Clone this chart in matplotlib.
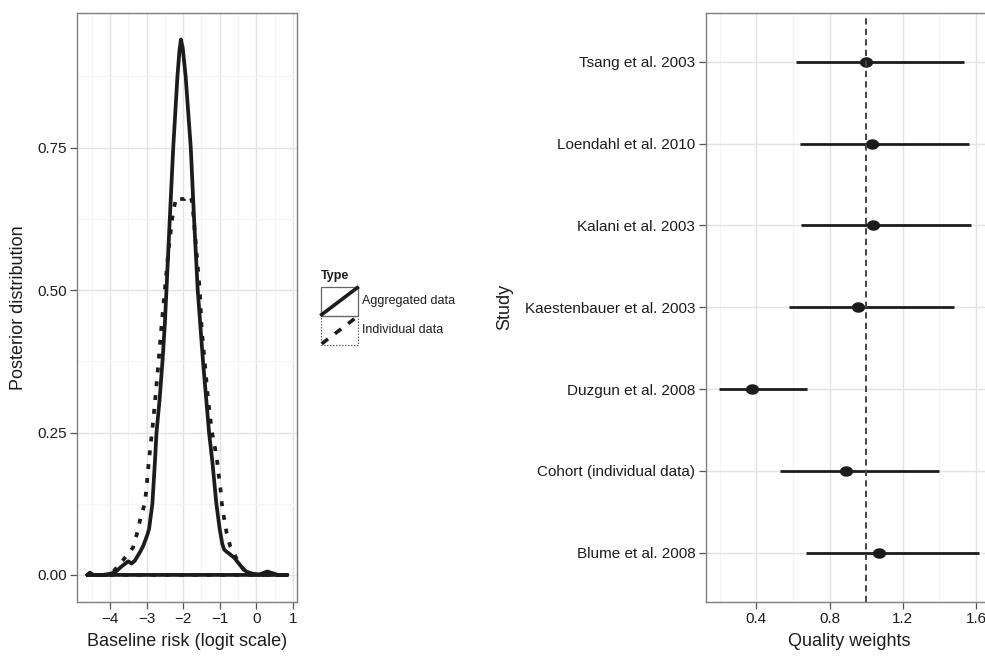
import numpy as np
import matplotlib
matplotlib.use("Agg")
import matplotlib.pyplot as plt
from matplotlib.path import Path
from matplotlib.patches import Rectangle
from matplotlib.lines import Line2D

plt.rcParams["font.family"] = ["Liberation Sans", "DejaVu Sans"]

# ---- Posterior density of the baseline risk (logit scale) ----
agg_x = [-4.62, -4.55, -4.45, -4.2, -4.0, -3.9, -3.82, -3.68, -3.5, -3.41,
         -3.32, -3.18, -3.09, -2.98, -2.93, -2.84, -2.77, -2.727, -2.64, -2.564,
         -2.5, -2.455, -2.364, -2.27, -2.155, -2.10, -2.06, -2.01, -1.93, -1.79,
         -1.70, -1.60, -1.455, -1.29, -1.20, -1.09, -1.00, -0.93, -0.88, -0.80,
         -0.73, -0.60, -0.50, -0.35, -0.27, -0.10, 0.10, 0.30, 0.45, 0.60, 0.85]
agg_y = [0.0, 0.004, 0.0, 0.0, 0.002, 0.004, 0.007, 0.015, 0.024, 0.020,
         0.025, 0.040, 0.051, 0.070, 0.081, 0.125, 0.199, 0.250, 0.310, 0.375,
         0.440, 0.500, 0.625, 0.750, 0.875, 0.920, 0.940, 0.925, 0.875, 0.750,
         0.625, 0.500, 0.375, 0.250, 0.199, 0.125, 0.081, 0.055, 0.045, 0.040,
         0.037, 0.030, 0.022, 0.010, 0.006, 0.002, 0.001, 0.006, 0.003, 0.0, 0.0]

ind_x = [-4.62, -4.0, -3.95, -3.77, -3.58, -3.37, -3.25, -3.16, -3.05, -3.0,
         -2.97, -2.89, -2.84, -2.76, -2.67, -2.60, -2.50, -2.40, -2.32, -2.27,
         -2.18, -2.10, -1.95, -1.85, -1.77, -1.73, -1.65, -1.545, -1.49, -1.41,
         -1.32, -1.21, -1.14, -1.07, -1.03, -0.98, -0.94, -0.88, -0.81, -0.71,
         -0.50, -0.27, 0.0, 0.85]
ind_y = [0.0, 0.0, 0.003, 0.016, 0.031, 0.048, 0.075, 0.101, 0.125, 0.152,
         0.178, 0.228, 0.256, 0.310, 0.375, 0.430, 0.500, 0.570, 0.613, 0.640,
         0.663, 0.660, 0.660, 0.667, 0.660, 0.640, 0.580, 0.500, 0.430, 0.375,
         0.310, 0.250, 0.228, 0.200, 0.178, 0.152, 0.125, 0.100, 0.074, 0.050,
         0.024, 0.003, 0.0, 0.0]

# ---- Quality weights per study ----
studies = ["Tsang et al. 2003", "Loendahl et al. 2010", "Kalani et al. 2003",
           "Kaestenbauer et al. 2003", "Duzgun et al. 2008",
           "Cohort (individual data)", "Blume et al. 2008"]
weight_mid = [1.001, 1.030, 1.037, 0.955, 0.376, 0.889, 1.070]
weight_lo = [0.616, 0.637, 0.641, 0.579, 0.194, 0.530, 0.670]
weight_hi = [1.532, 1.562, 1.573, 1.478, 0.674, 1.399, 1.618]
ref_weight = 1.0

W, H = 985, 657
fig = plt.figure(figsize=(W / 100, H / 100), dpi=100)
fig.patch.set_facecolor("white")

INK = "#1c1c1c"
BORDER = "#7f7f7f"
GRID_MAJ = "#e3e3e3"
GRID_MIN = "#f5f5f5"


def px_axes(x0, x1, y0, y1):
    return fig.add_axes([x0 / W, 1 - y1 / H, (x1 - x0) / W, (y1 - y0) / H])


def style(ax):
    for s in ax.spines.values():
        s.set_color(BORDER)
        s.set_linewidth(1.0)
    ax.tick_params(which="major", length=5, width=0.9, color="#555555",
                   labelsize=11, labelcolor=INK, pad=2.5)
    ax.tick_params(which="minor", length=0)
    ax.grid(which="major", color=GRID_MAJ, lw=1.0)
    ax.grid(which="minor", color=GRID_MIN, lw=1.0)
    ax.set_axisbelow(True)


# ---- left panel: density curves ----
ax1 = px_axes(77.3, 297.3, 12.7, 601.7)
style(ax1)
xmin, xmax = min(agg_x), max(agg_x)
span = xmax - xmin
ax1.set_xlim(xmin - 0.05 * span, xmax + 0.05 * span)
ytop = max(agg_y)
ax1.set_ylim(-0.05 * ytop, 1.05 * ytop)
ax1.set_xticks([-4, -3, -2, -1, 0, 1])
ax1.set_xticks(np.arange(-4.5, 1.01, 1.0), minor=True)
ax1.set_yticks([0.0, 0.25, 0.5, 0.75])
ax1.set_yticklabels(["0.00", "0.25", "0.50", "0.75"])
ax1.set_yticks([0.125, 0.375, 0.625, 0.875], minor=True)

# closed outlines, as a density polygon is drawn
ax1.plot(ind_x + [ind_x[0]], ind_y + [ind_y[0]], color=INK, lw=2.7,
         linestyle=(0, (1.3, 2.4)), dash_capstyle="butt")
ax1.plot(agg_x + [agg_x[0]], agg_y + [agg_y[0]], color=INK, lw=2.7,
         solid_joinstyle="round", solid_capstyle="round")

ax1.set_xlabel("Baseline risk (logit scale)", fontsize=13, color=INK,
               va="center")
ax1.xaxis.set_label_coords(0.5, (601.7 - 641) / 589)
ax1.set_ylabel("Posterior distribution", fontsize=13, color=INK,
               va="center", ha="center")
ax1.yaxis.set_label_coords((18 - 77.3) / 220, 0.5)

# ---- right panel: quality weights ----
ax2 = px_axes(705.7, 992.3, 12.7, 601.7)
style(ax2)
n = len(studies)
ypos = np.arange(n, 0, -1)
lo_all, hi_all = min(weight_lo), max(weight_hi)
sp2 = hi_all - lo_all
ax2.set_xlim(lo_all - 0.05 * sp2, hi_all + 0.05 * sp2)
ax2.set_ylim(0.4, n + 0.6)
ax2.set_xticks([0.4, 0.8, 1.2, 1.6])
ax2.set_xticks([0.2, 0.6, 1.0, 1.4], minor=True)
ax2.set_yticks(ypos)
ax2.set_yticklabels(studies)
ax2.hlines(ypos, weight_lo, weight_hi, color=INK, lw=2.0)

theta = np.linspace(0, 2 * np.pi, 40)
ell = Path(np.column_stack([1.3 * np.cos(theta), np.sin(theta)]))
ax2.plot(weight_mid, ypos, linestyle="none", marker=ell, markersize=8.5,
         color=INK)
ax2.axvline(ref_weight, color="#444444", lw=1.4, linestyle=(0, (3.2, 2.2)))

ax2.set_xlabel("Quality weights", fontsize=13, color=INK, va="center")
ax2.xaxis.set_label_coords((849 - 705.7) / 286.6, (601.7 - 641) / 589)
ax2.set_ylabel("Study", fontsize=13, color=INK, va="center", ha="center")
ax2.yaxis.set_label_coords((505 - 705.7) / 286.6, 0.5)

# ---- legend ----
lg = fig.add_axes([0, 0, 1, 1], zorder=5)
lg.set_xlim(0, W)
lg.set_ylim(H, 0)
lg.axis("off")
lg.text(320.5, 276.5, "Type", fontsize=9, fontweight="bold", color=INK,
        va="center", ha="left")
kx0, kx1 = 320.7, 358.3
keys = [(286.7, 315.6, "-", "Aggregated data"),
        (315.6, 344.8, (0, (1.2, 1.2)), "Individual data")]
for y0, y1, ls, lab in keys:
    lg.add_patch(Rectangle((kx0, y0), kx1 - kx0, y1 - y0, fill=False,
                           edgecolor="#666666", lw=0.9, linestyle=ls))
    dash = "-" if ls == "-" else (0, (2.2, 2.4))
    lg.add_line(Line2D([kx0 + 1, kx1 - 1], [y1 - 1, y0 + 1], color=INK,
                       lw=2.6, linestyle=dash))
    lg.text(361.5, (y0 + y1) / 2, lab, fontsize=9, color=INK, va="center",
            ha="left")

fig.savefig("out.png", dpi=100)
